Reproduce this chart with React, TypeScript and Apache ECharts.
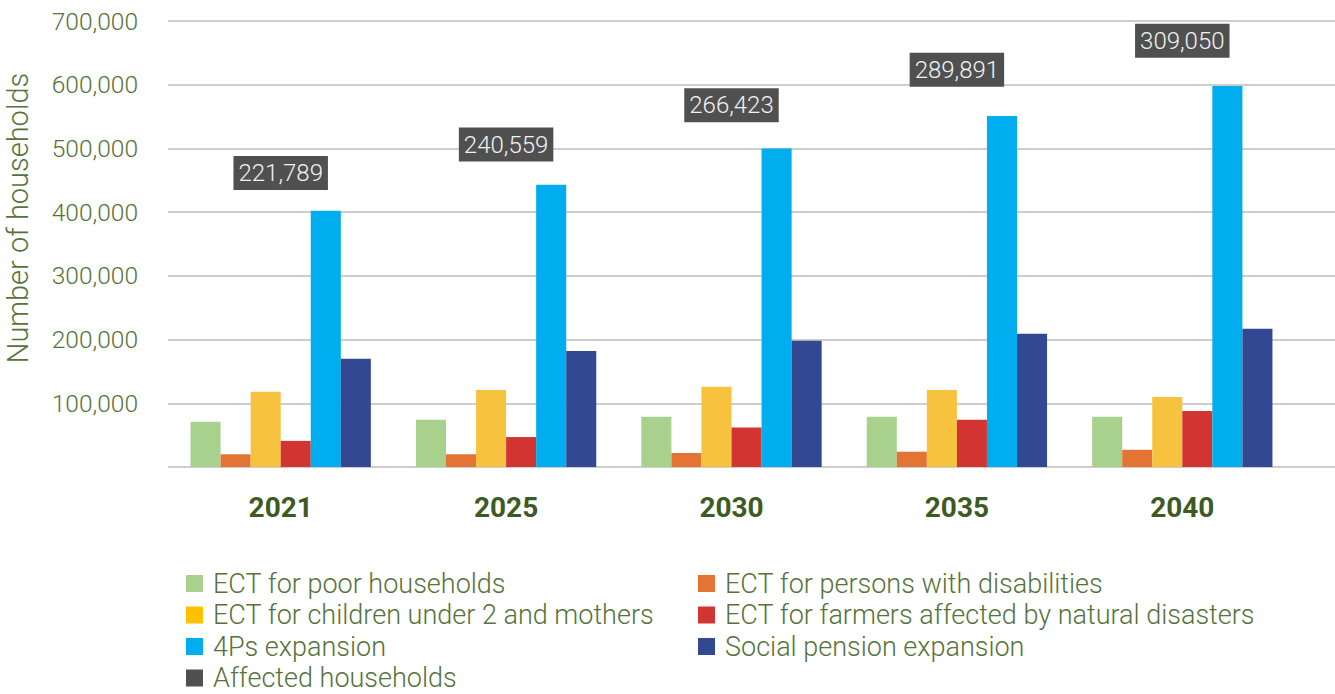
import React, { useEffect, useRef } from "react";
import * as echarts from "echarts";

const years = ["2021", "2025", "2030", "2035", "2040"];
const poorHouseholds = [71000, 74000, 79000, 79000, 79000];
const disabilities = [20000, 20000, 22000, 24000, 27000];
const childrenMothers = [118000, 121000, 126000, 121000, 110000];
const farmers = [41000, 47000, 62000, 74000, 88000];
const fourPs = [402000, 443000, 500000, 551000, 598000];
const socialPension = [170000, 182000, 198000, 209000, 217000];
const affectedHouseholds = [221789, 240559, 266423, 289891, 309050];

const FONT = "Roboto";
const TEXT = "#55733a";
const YEAR = "#3d5a22";

export default function App() {
  const ref = useRef<HTMLDivElement>(null);
  useEffect(() => {
    if (!ref.current) return;
    const chart = echarts.init(ref.current, undefined, { renderer: "svg" });
    const fmt = (v: number) => v.toLocaleString("en-US");
    const barSeries = [
      { name: "ECT for poor households", data: poorHouseholds, color: "#a9d18e" },
      { name: "ECT for persons with disabilities", data: disabilities, color: "#e37433" },
      { name: "ECT for children under 2 and mothers", data: childrenMothers, color: "#f7c33f" },
      { name: "ECT for farmers affected by natural disasters", data: farmers, color: "#d23431" },
      { name: "4Ps expansion", data: fourPs, color: "#00adee" },
      { name: "Social pension expansion", data: socialPension, color: "#334893" },
    ].map((s) => ({
      name: s.name,
      type: "bar",
      xAxisIndex: 1,
      yAxisIndex: 1,
      data: s.data,
      itemStyle: { color: s.color },
      barGap: "0%",
      barCategoryGap: "20%",
    }));
    const legendText = { color: TEXT, fontSize: 27, fontFamily: FONT, fontWeight: 300, padding: [0, 0, 0, 5] };
    const legendBase = {
      orient: "vertical",
      top: 570,
      height: 200,
      padding: 0,
      itemWidth: 17,
      itemHeight: 17,
      itemGap: 4.5,
      icon: "rect",
      textStyle: legendText,
    };
    chart.setOption({
      animation: false,
      textStyle: { fontFamily: FONT },
      grid: [
        { left: 168, right: 0, top: 21, bottom: 227 },
        { left: 168, right: 40, top: 21, bottom: 227 },
      ],
      xAxis: [
        { type: "value", gridIndex: 0, show: false, min: 0, max: 1 },
        {
          type: "category",
          gridIndex: 1,
          data: years,
          axisLine: { show: false },
          axisTick: { show: false },
          axisLabel: { color: YEAR, fontSize: 28, fontWeight: "bold", fontFamily: FONT, margin: 26 },
        },
      ],
      yAxis: [
        {
          type: "value",
          gridIndex: 0,
          min: 0,
          max: 700000,
          interval: 100000,
          axisLine: { show: false },
          axisTick: { show: false },
          splitLine: { lineStyle: { color: "#bdbdbd", width: 1.5 } },
          axisLabel: {
            color: TEXT,
            fontSize: 24.5,
            fontFamily: FONT,
            fontWeight: 300,
            margin: 30,
            formatter: (v: number) => (v === 0 ? "" : fmt(v)),
          },
        },
        { type: "value", gridIndex: 1, min: 0, max: 700000, show: false, splitLine: { show: false } },
        { type: "value", gridIndex: 1, min: 28000, max: 322000, show: false, splitLine: { show: false } },
      ],
      legend: [
        {
          ...legendBase,
          left: 186,
          data: [
            "ECT for poor households",
            { name: "ECT for children under 2 and mothers", itemStyle: { color: "#ffc000" } },
            "4Ps expansion",
            "Affected households",
          ],
        },
        {
          ...legendBase,
          left: 698,
          data: ["ECT for persons with disabilities", "ECT for farmers affected by natural disasters", "Social pension expansion"],
        },
      ],
      graphic: [
        {
          type: "text",
          x: 18,
          y: 218,
          rotation: Math.PI / 2,
          style: {
            text: "Number of households",
            fill: TEXT,
            fontSize: 29,
            fontFamily: FONT,
            fontWeight: 300,
            align: "center",
            verticalAlign: "middle",
          },
        },
      ],
      series: [
        ...barSeries,
        {
          name: "Affected households",
          type: "scatter",
          xAxisIndex: 1,
          yAxisIndex: 2,
          data: affectedHouseholds,
          symbolSize: 0,
          itemStyle: { color: "#505050", opacity: 1 },
          label: {
            show: true,
            position: "inside",
            formatter: (p: any) => fmt(affectedHouseholds[p.dataIndex]),
            color: "#f2f2f2",
            fontSize: 24,
            fontFamily: FONT,
            fontWeight: 300,
            lineHeight: 24,
            backgroundColor: "#505050",
            padding: [5, 5, 5, 5],
          },
        },
      ],
    });
    return () => chart.dispose();
  }, []);
  return <div ref={ref} style={{ position: "absolute", left: 0, top: 0, width: 1335, height: 694 }} />;
}
